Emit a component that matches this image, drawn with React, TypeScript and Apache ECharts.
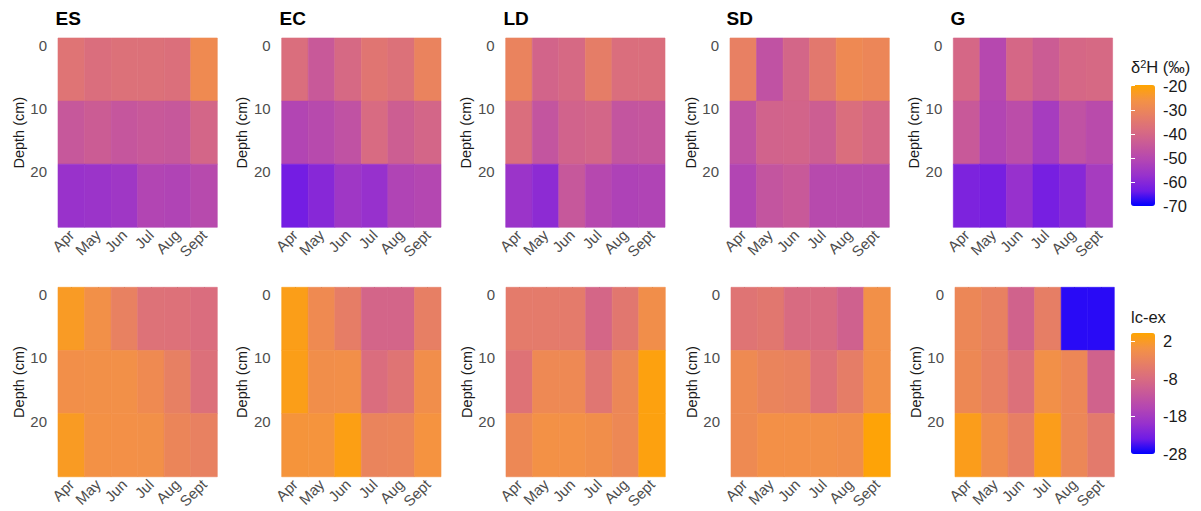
import React, { useEffect, useRef } from 'react';
import * as echarts from 'echarts';

const months = ['Apr', 'May', 'Jun', 'Jul', 'Aug', 'Sept'];
const depthTops = [0, 10, 20];
const sites = ['ES', 'EC', 'LD', 'SD', 'G'];

// δ2H (‰): rows = depth 0-10, 10-20, 20-30 ; columns = months
const d2H_ES = [[-36, -38, -37, -37, -37.5, -28.5], [-45, -43.5, -45.5, -44.5, -45, -40.5], [-57, -56.5, -55.5, -51, -51.5, -49.5]];
const d2H_EC = [[-38, -44.5, -39.5, -35.5, -37, -31], [-51, -49.5, -47, -39, -43, -40.5], [-63, -60, -55.5, -57.5, -51.5, -50.5]];
const d2H_LD = [[-31, -41, -39.5, -33, -38, -38], [-38, -46, -41.5, -40.5, -46, -45.5], [-56.5, -59, -45, -50, -52, -51.5]];
const d2H_SD = [[-32, -47, -40.5, -34.5, -29, -30], [-47, -41.5, -41, -43, -38, -40], [-51, -46, -44.5, -49.5, -49.5, -49.5]];
const d2H_G = [[-40, -50, -40, -43.5, -40, -39.5], [-44.5, -51, -48.5, -54, -47, -49], [-61.5, -62.5, -57.5, -62.5, -60, -54]];

// lc-excess
const lcex_ES = [[2, -0.3, -3.5, -6.7, -6.8, -7.6], [-0.4, -0.3, -0.3, -1.5, -3.7, -7], [2.1, 0, -0.2, -0.3, -2.5, -3.5]];
const lcex_EC = [[2.8, -1.5, -4.2, -9.2, -9.2, -3.9], [2.8, -0.6, -0.5, -7.6, -6.2, -0.7], [0.7, 0.6, 3, -2.8, -2.6, 0.4]];
const lcex_LD = [[-4.8, -4.8, -4.8, -9, -5.5, -0.6], [-6.5, -1.8, -1.8, -5.8, -2.2, 3.3], [-2, -0.1, -0.1, -0.6, -2, 3.3]];
const lcex_SD = [[-6.2, -5.5, -8, -8, -10, -0.3], [-1.6, -2.8, -3.2, -6.8, -4.3, -0.3], [-1.6, -0.2, -0.2, -0.3, -0.6, 3.8]];
const lcex_G = [[-2.2, -3.5, -9.8, -4, -26.5, -26.5], [-1.9, -3.6, -7, -0.3, -2.1, -9.8], [2.6, -1, -3.9, 2.6, -2.2, -5]];

const d2HTicks = [-70, -60, -50, -40, -30, -20];
const lcexTicks = [-28, -18, -8, 2];
const d2HRange = [-70, -19.7];
const lcexRange = [-28, 4.2];

const topData = [d2H_ES, d2H_EC, d2H_LD, d2H_SD, d2H_G];
const bottomData = [lcex_ES, lcex_EC, lcex_LD, lcex_SD, lcex_G];

const gradient = ['#0000FF', '#6F1BE6', '#9731CD', '#B245B4', '#C7589A', '#D96C80', '#E77F64', '#F49244', '#FFA500'];

const FONT = '"Liberation Sans", Arial, Helvetica, sans-serif';

const topLefts = [58, 281.7, 505.7, 730, 953.3];
const bottomLefts = [58, 281.7, 506, 731, 955];
const titleLefts = [55.5, 279.5, 503.5, 726.5, 950.5];

function toItems(m: number[][]) {
  const out: number[][] = [];
  m.forEach((row, r) => row.forEach((v, c) => out.push([c, depthTops[r], v])));
  return out;
}

const renderTile = (params: any, api: any) => {
  const x = api.value(0);
  const y0 = api.value(1);
  const p0 = api.coord([x, y0]);
  const p1 = api.coord([x, y0 + 10]);
  const w = api.size([1, 0])[0];
  const c = api.visual('color');
  return {
    type: 'rect',
    shape: { x: p0[0] - w / 2, y: p0[1], width: w, height: p1[1] - p0[1] },
    style: { fill: c, stroke: c, lineWidth: 0.6 },
  };
};

export default function App() {
  const ref = useRef<HTMLDivElement>(null);
  useEffect(() => {
    if (!ref.current) return;
    const chart = echarts.init(ref.current, null, { renderer: 'svg' });

    const grids: any[] = [];
    const xAxes: any[] = [];
    const yAxes: any[] = [];
    const series: any[] = [];

    const addPanel = (left: number, top: number, height: number, data: number[][], idx: number) => {
      grids.push({ left, top, width: 159.3, height, containLabel: false });
      xAxes.push({
        gridIndex: idx,
        type: 'category',
        data: months,
        axisLine: { show: false },
        axisTick: { show: true, alignWithLabel: true, length: 4, interval: 0, lineStyle: { color: '#333333', width: 1 } },
        axisLabel: { interval: 0, rotate: 45, fontSize: 15, color: '#4D4D4D', margin: 5, fontFamily: FONT },
        splitLine: { show: false },
      });
      yAxes.push({
        gridIndex: idx,
        type: 'value',
        inverse: true,
        min: 0,
        max: 30,
        axisLine: { show: false },
        axisTick: { show: false },
        splitLine: { show: false },
        axisLabel: { customValues: [0, 10, 20], verticalAlign: 'top', margin: 11, fontSize: 15, color: '#4D4D4D', fontFamily: FONT },
        name: 'Depth (cm)',
        nameLocation: 'middle',
        nameGap: 32,
        nameTextStyle: { fontSize: 14.5, color: '#1A1A1A', fontFamily: FONT },
      });
      series.push({
        type: 'custom',
        xAxisIndex: idx,
        yAxisIndex: idx,
        renderItem: renderTile,
        encode: { x: 0, y: 1 },
        data: toItems(data),
      });
    };

    topData.forEach((d, i) => addPanel(topLefts[i], 38, 189.3, d, i));
    bottomData.forEach((d, i) => addPanel(bottomLefts[i], 287.3, 192.7, d, 5 + i));

    // colour-bar helper grids (ticks and labels)
    const addBar = (top: number, range: number[], ticks: number[], gi: number) => {
      grids.push({ left: 1131, top, width: 24, height: 121 });
      xAxes.push({ gridIndex: gi, type: 'value', show: false, min: 0, max: 1 });
      const common = {
        gridIndex: gi,
        type: 'value',
        min: range[0],
        max: range[1],
        z: 10,
        axisLine: { show: false },
        splitLine: { show: false },
        axisTick: { show: true, inside: true, length: 4, customValues: ticks, lineStyle: { color: '#FFFFFF', width: 1 } },
      };
      yAxes.push({
        ...common,
        position: 'right',
        axisLabel: { customValues: ticks, margin: 8, fontSize: 16.5, color: '#1A1A1A', fontFamily: FONT },
      });
      yAxes.push({
        ...common,
        position: 'left',
        axisLabel: { show: false },
      });
    };
    addBar(85, d2HRange, d2HTicks, 10);
    addBar(333, lcexRange, lcexTicks, 11);

    const option: any = {
      animation: false,
      backgroundColor: '#FFFFFF',
      textStyle: { fontFamily: FONT },
      title: sites.map((s, i) => ({
        text: s,
        left: titleLefts[i],
        top: 9,
        padding: 0,
        textStyle: { fontSize: 19, fontWeight: 'bold', color: '#000000', fontFamily: FONT },
      })),
      grid: grids,
      xAxis: xAxes,
      yAxis: yAxes,
      visualMap: [
        {
          type: 'continuous',
          min: d2HRange[0],
          max: d2HRange[1],
          dimension: 2,
          seriesIndex: [0, 1, 2, 3, 4],
          inRange: { color: gradient },
          left: 1131,
          top: 85,
          itemWidth: 24,
          itemHeight: 121,
          padding: 0,
          calculable: false,
          hoverLink: false,
          orient: 'vertical',
        },
        {
          type: 'continuous',
          min: lcexRange[0],
          max: lcexRange[1],
          dimension: 2,
          seriesIndex: [5, 6, 7, 8, 9],
          inRange: { color: gradient },
          left: 1131,
          top: 333,
          itemWidth: 24,
          itemHeight: 121,
          padding: 0,
          calculable: false,
          hoverLink: false,
          orient: 'vertical',
        },
      ],
      graphic: [
        {
          type: 'text',
          x: 1131,
          y: 67,
          style: {
            text: '{a|δ}{s|2}{a|H (‰)}',
            verticalAlign: 'middle',
            rich: {
              a: { fontSize: 16.5, fontFamily: FONT, fill: '#1A1A1A' },
              s: { fontSize: 11, fontFamily: FONT, fill: '#1A1A1A', verticalAlign: 'top' },
            },
          },
        },
        {
          type: 'text',
          x: 1131,
          y: 317,
          style: { text: 'lc-ex', fontSize: 16.5, fontFamily: FONT, fill: '#1A1A1A', verticalAlign: 'middle' },
        },
      ],
      series,
    };
    chart.setOption(option);
    return () => chart.dispose();
  }, []);

  return <div ref={ref} style={{ position: 'absolute', left: 0, top: 0, width: 1201, height: 511 }} />;
}
